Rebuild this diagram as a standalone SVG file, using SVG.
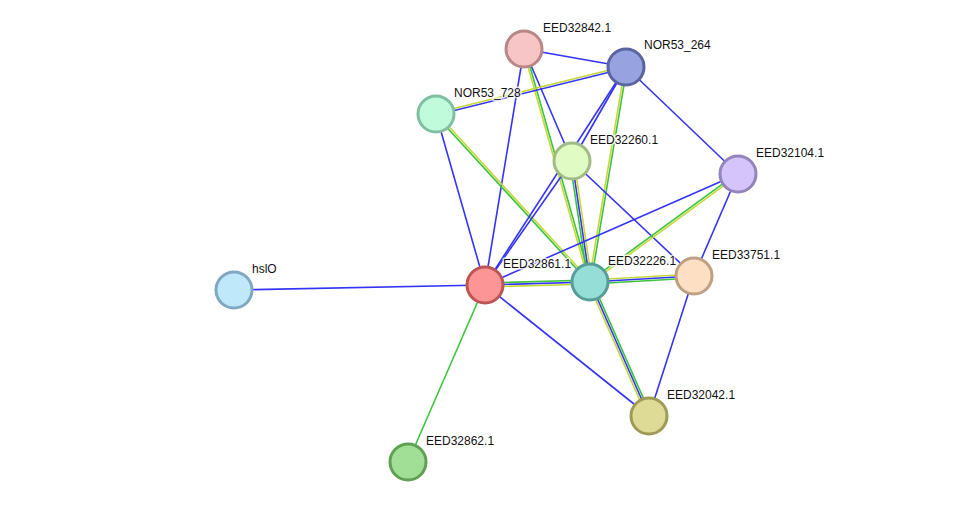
<svg xmlns="http://www.w3.org/2000/svg" width="976" height="508" viewBox="0 0 976 508">
<style>
.e{fill:none;stroke-width:1.6}
.b{stroke:#3434f5}
.g{stroke:#3ec33e}
.y{stroke:#c6d83a}
.n{stroke-width:3}
text{font-family:"Liberation Sans",Arial,sans-serif;font-size:12px;fill:#111;stroke:#fff;stroke-width:3;stroke-opacity:0.8;paint-order:stroke;stroke-linejoin:round}
</style>
<rect width="976" height="508" fill="#fff"/>
<g id="connectors">
<line class="e b" x1="524" y1="49" x2="626" y2="67"/>
<line class="e b" x1="524" y1="49" x2="485" y2="285"/>
<line class="e b" x1="524" y1="49" x2="572" y2="161"/>
<line class="e y" x1="523.04" y1="49.27" x2="589.04" y2="282.27"/>
<line class="e g" x1="524.96" y1="48.73" x2="590.96" y2="281.73"/>
<line class="e y" x1="435.76" y1="113.03" x2="625.76" y2="66.03"/>
<line class="e b" x1="436.24" y1="114.97" x2="626.24" y2="67.97"/>
<line class="e b" x1="436" y1="114" x2="485" y2="285"/>
<line class="e y" x1="436.74" y1="113.32" x2="590.74" y2="281.32"/>
<line class="e g" x1="435.26" y1="114.68" x2="589.26" y2="282.68"/>
<line class="e b" x1="626" y1="67" x2="572" y2="161"/>
<line class="e b" x1="626" y1="67" x2="485" y2="285"/>
<line class="e b" x1="626" y1="67" x2="738" y2="174"/>
<line class="e y" x1="625.01" y1="66.83" x2="589.01" y2="281.83"/>
<line class="e g" x1="626.99" y1="67.17" x2="590.99" y2="282.17"/>
<line class="e g" x1="570.02" y1="161.29" x2="588.02" y2="282.29"/>
<line class="e b" x1="572" y1="161" x2="590" y2="282"/>
<line class="e y" x1="573.98" y1="160.71" x2="591.98" y2="281.71"/>
<line class="e b" x1="572" y1="161" x2="485" y2="285"/>
<line class="e b" x1="572" y1="161" x2="694" y2="276"/>
<line class="e b" x1="738" y1="174" x2="485" y2="285"/>
<line class="e b" x1="738" y1="174" x2="694" y2="276"/>
<line class="e g" x1="737.41" y1="173.19" x2="589.41" y2="281.19"/>
<line class="e y" x1="738.59" y1="174.81" x2="590.59" y2="282.81"/>
<line class="e b" x1="485" y1="285" x2="234" y2="290"/>
<line class="e g" x1="485" y1="285" x2="408" y2="462"/>
<line class="e b" x1="485" y1="285" x2="649" y2="416"/>
<line class="e g" x1="485" y1="283" x2="590" y2="280"/>
<line class="e b" x1="485" y1="285" x2="590" y2="282"/>
<line class="e y" x1="485" y1="287" x2="590" y2="284"/>
<line class="e y" x1="590" y1="280" x2="694" y2="274"/>
<line class="e b" x1="590" y1="282" x2="694" y2="276"/>
<line class="e g" x1="590" y1="284" x2="694" y2="278"/>
<line class="e y" x1="588.17" y1="282.81" x2="647.17" y2="416.81"/>
<line class="e b" x1="590" y1="282" x2="649" y2="416"/>
<line class="e g" x1="591.83" y1="281.19" x2="650.83" y2="415.19"/>
<line class="e b" x1="694" y1="276" x2="649" y2="416"/>
</g>
<g id="EED32842.1"><circle class="n" cx="524" cy="49" r="18" fill="#f8c5c6" stroke="#b88788"/><text x="543" y="32">EED32842.1</text></g>
<g id="NOR53_264"><circle class="n" cx="626" cy="67" r="18" fill="#97a2e0" stroke="#5a64a0"/><text x="644" y="49">NOR53_264</text></g>
<g id="NOR53_728"><circle class="n" cx="436" cy="114" r="18" fill="#c0fbdb" stroke="#80c0a0"/><text x="454" y="97">NOR53_728</text></g>
<g id="EED32260.1"><circle class="n" cx="572" cy="161" r="18" fill="#e0fcc4" stroke="#a0bc84"/><text x="590" y="144">EED32260.1</text></g>
<g id="EED32104.1"><circle class="n" cx="738" cy="174" r="18" fill="#d4c4fb" stroke="#9484bc"/><text x="756" y="157">EED32104.1</text></g>
<g id="hslO"><circle class="n" cx="234" cy="290" r="18" fill="#c0e8fb" stroke="#80a8c0"/><text x="252" y="273">hslO</text></g>
<g id="EED32861.1"><circle class="n" cx="485" cy="285" r="18" fill="#fc9595" stroke="#bc5555"/><text x="503" y="268">EED32861.1</text></g>
<g id="EED32226.1"><circle class="n" cx="590" cy="282" r="18" fill="#95ddd7" stroke="#559d97"/><text x="608" y="265">EED32226.1</text></g>
<g id="EED33751.1"><circle class="n" cx="694" cy="276" r="18" fill="#fde0c3" stroke="#bda083"/><text x="712" y="259">EED33751.1</text></g>
<g id="EED32042.1"><circle class="n" cx="649" cy="416" r="18" fill="#dddb95" stroke="#9d9b55"/><text x="667" y="399">EED32042.1</text></g>
<g id="EED32862.1"><circle class="n" cx="408" cy="462" r="18" fill="#a0df95" stroke="#60a055"/><text x="426" y="445">EED32862.1</text></g>
</svg>
